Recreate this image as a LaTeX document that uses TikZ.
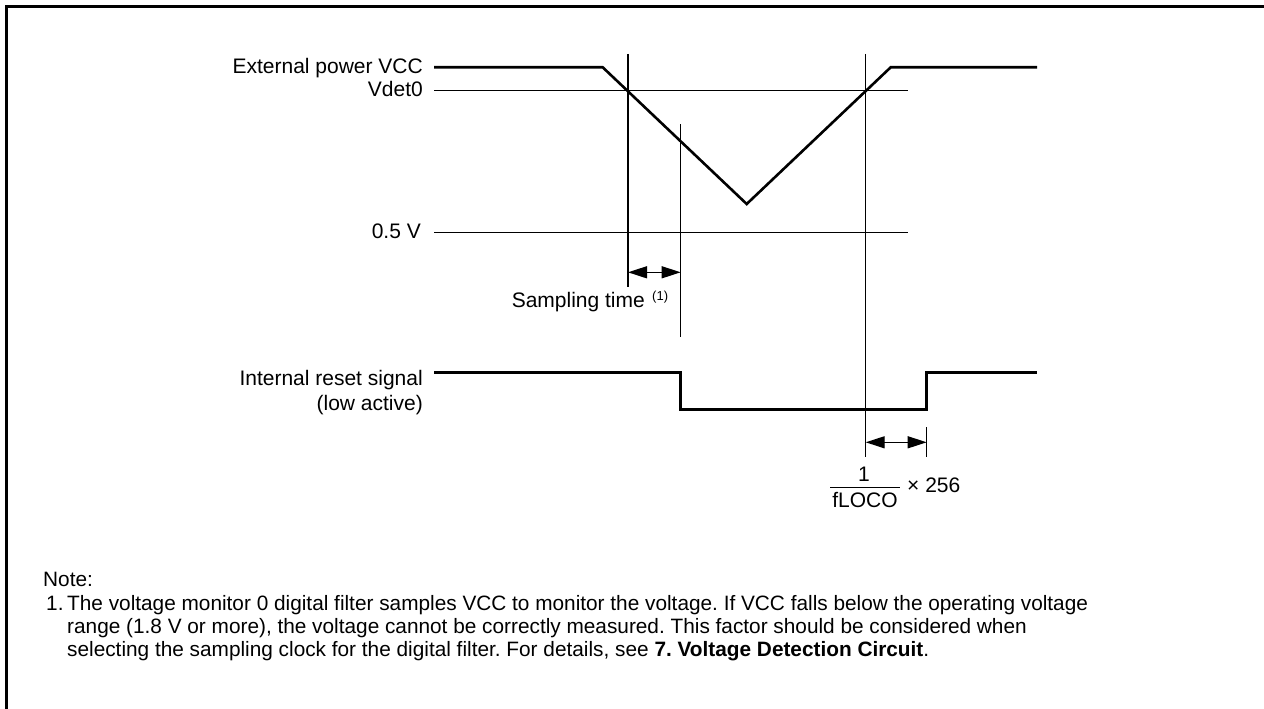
\documentclass[tikz,border=0pt]{standalone}
\usepackage{fontspec}
\setmainfont{Liberation Sans}
\usetikzlibrary{arrows.meta}
\frenchspacing
\begin{document}
\begin{tikzpicture}[x=1pt,y=-1pt,
  lbl/.style={inner sep=0pt,anchor=base east,font=\fontsize{21}{23}\selectfont},
  txt/.style={inner sep=0pt,anchor=base west,font=\fontsize{20.8}{23}\selectfont},
  sig/.style={line width=2.6pt,line join=miter},
  thin/.style={line width=1.3pt},
  dim/.style={line width=1.3pt,{Triangle[length=19pt,width=12pt]}-{Triangle[length=19pt,width=12pt]}}]
\useasboundingbox (0,0) rectangle (1264,709);
% frame
\draw[line width=3pt] (6,712) -- (6,7) -- (1268,7);
% labels
\node[lbl] (lvcc) at (423,74) {External power VCC};
\node[lbl] (lvdet) at (423,96.7) {Vdet0};
\node[lbl] (lhalf) at (421,238.3) {0.5 V};
\node[lbl] (lrst1) at (423,385) {Internal reset signal};
\node[lbl] (lrst2) at (423,410) {(low active)};
% coordinates
\coordinate (v0) at (434,67.3);
\coordinate (v1) at (602.7,67.3);
\coordinate (v2) at (746.7,204);
\coordinate (v3) at (890.7,67.3);
\coordinate (v4) at (1037,67.3);
% VCC waveform
\draw[sig] (v0) -- (v1) -- (v2) -- (v3) -- (v4);
% reference levels
\coordinate (d0) at (434,90.7); \coordinate (d1) at (907.7,90.7);
\coordinate (h0) at (434,232.3); \coordinate (h1) at (907.7,232.3);
\draw[thin] (d0) -- (d1);
\draw[thin] (h0) -- (h1);
% vertical markers
\coordinate (a0) at (628,54); \coordinate (a1) at (628,287);
\coordinate (b0) at (680.7,124); \coordinate (b1) at (680.7,337);
\coordinate (c0) at (865.7,54); \coordinate (c1) at (865.7,457);
\coordinate (e0) at (926.7,427); \coordinate (e1) at (926.7,457);
\draw[thin] (a0) -- (a1);
\draw[thin] (b0) -- (b1);
\draw[thin] (c0) -- (c1);
\draw[thin] (e0) -- (e1);
% sampling time arrow
\coordinate (sa) at (628,272.3); \coordinate (sb) at (680.7,272.3);
\draw[dim] (sa) -- (sb);
\node[lbl] (samp) at (645,307) {Sampling time};
\node[inner sep=0pt,anchor=base west,font=\fontsize{13}{15}\selectfont] (sup) at (652,300.5) {(1)};
% reset waveform
\coordinate (r0) at (434,372.3);
\coordinate (r1) at (680.7,372.3);
\coordinate (r2) at (680.7,409.5);
\coordinate (r3) at (926.7,409.5);
\coordinate (r4) at (926.7,372.3);
\coordinate (r5) at (1037,372.3);
\draw[sig] (r0) -- (r1) -- (r2) -- (r3) -- (r4) -- (r5);
% fLOCO arrow
\coordinate (fa) at (865.7,442.3); \coordinate (fb) at (926.7,442.3);
\draw[dim] (fa) -- (fb);
\node[inner sep=0pt,anchor=base,font=\fontsize{21}{23}\selectfont] (one) at (864,481) {1};
\coordinate (bar0) at (830,487.5); \coordinate (bar1) at (900,487.5);
\draw[line width=1.2pt] (bar0) -- (bar1);
\node[inner sep=0pt,anchor=base,font=\fontsize{21}{23}\selectfont] (floco) at (865,507) {fLOCO};
\node[inner sep=0pt,anchor=base west,font=\fontsize{21}{23}\selectfont] (x256) at (907,492) {\char"00D7\ 256};
% note
\node[txt] (note) at (43,586) {Note:};
\node[txt] (n1) at (46,610) {1.};
\node[txt] (l1) at (67,610) {The voltage monitor 0 digital filter samples VCC to monitor the voltage. If VCC falls below the operating voltage};
\node[txt] (l2) at (67,633) {range (1.8 V or more), the voltage cannot be correctly measured. This factor should be considered when};
\node[txt] (l3) at (67,656) {selecting the sampling clock for the digital filter. For details, see \textbf{7. Voltage Detection Circuit}.};
\end{tikzpicture}
\end{document}
